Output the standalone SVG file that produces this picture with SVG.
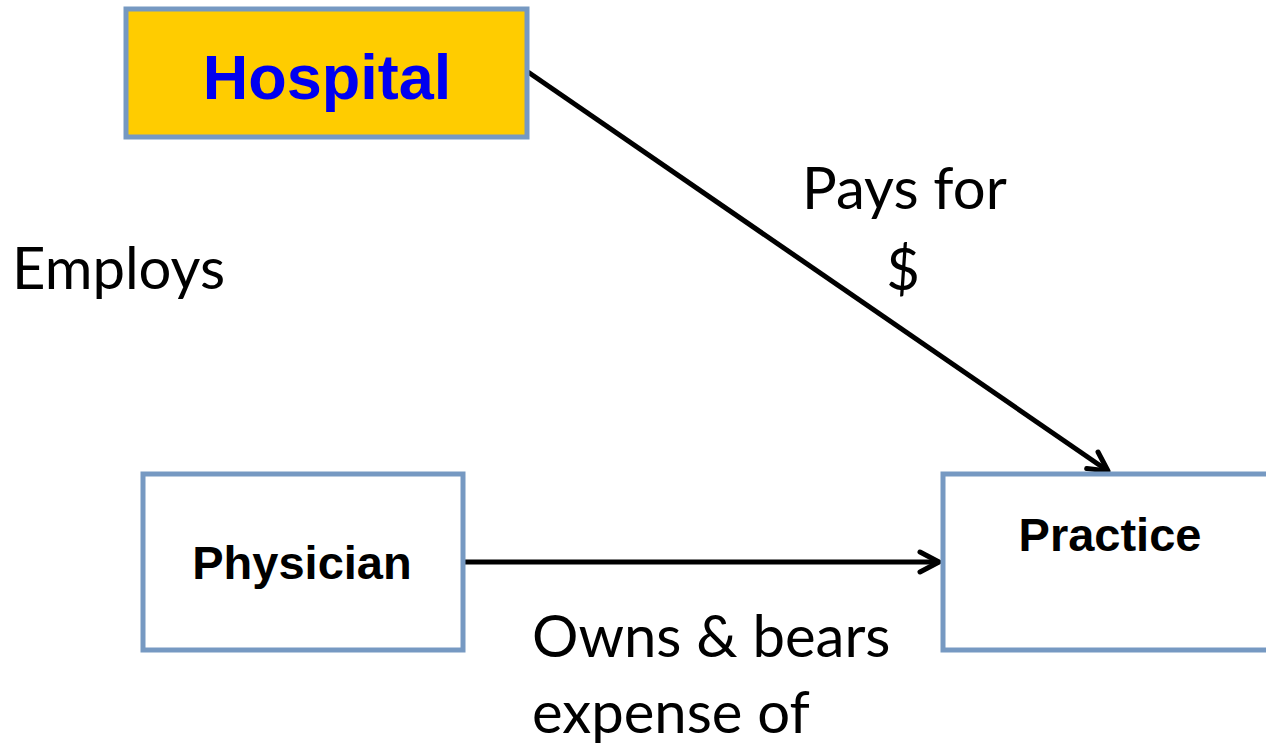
<svg xmlns="http://www.w3.org/2000/svg" width="1266" height="747" viewBox="0 0 1266 747">
<style>
.box{stroke:#7699c2;stroke-width:5;}
.bt{font-family:"Liberation Sans",Arial,sans-serif;font-weight:bold;text-anchor:middle;}
.lbl{font-family:Lato,"Open Sans",sans-serif;font-size:58px;fill:#000;}
.con{stroke:#000;stroke-width:5;fill:none;}
</style>
<defs>
<marker id="ah" viewBox="-25 -15 30 30" refX="0" refY="0" markerWidth="30" markerHeight="30" orient="auto" markerUnits="userSpaceOnUse" overflow="visible">
<path d="M-19,-10 L0,0 L-19,10" fill="none" stroke="#000" stroke-width="5" stroke-linecap="round" stroke-linejoin="round"/>
</marker>
</defs>
<rect width="1266" height="747" fill="#fff"/>
<g id="connectors">
<line class="con" x1="528" y1="72" x2="1108" y2="471" marker-end="url(#ah)"/>
<line class="con" x1="464" y1="562" x2="939" y2="562" marker-end="url(#ah)"/>
</g>
<g id="hospital">
<rect class="box" x="126" y="9" width="401" height="128" fill="#ffcc00"/>
<text class="bt" x="327" y="99" font-size="63" fill="#0000f0">Hospital</text>
</g>
<g id="physician">
<rect class="box" x="143" y="474" width="320" height="176" fill="#fff"/>
<text class="bt" x="302" y="579" font-size="47" fill="#000">Physician</text>
</g>
<g id="practice">
<rect class="box" x="943" y="474" width="340" height="176" fill="#fff"/>
<text class="bt" x="1110" y="551" font-size="47" fill="#000">Practice</text>
</g>
<g id="labels">
<text class="lbl" x="12" y="289">Employs</text>
<text class="lbl" x="802" y="209">Pays for</text>
<text class="lbl" x="903" y="290" text-anchor="middle">$</text>
<text class="lbl" x="532" y="657">Owns &amp; bears</text>
<text class="lbl" x="532" y="733">expense of</text>
</g>
</svg>
